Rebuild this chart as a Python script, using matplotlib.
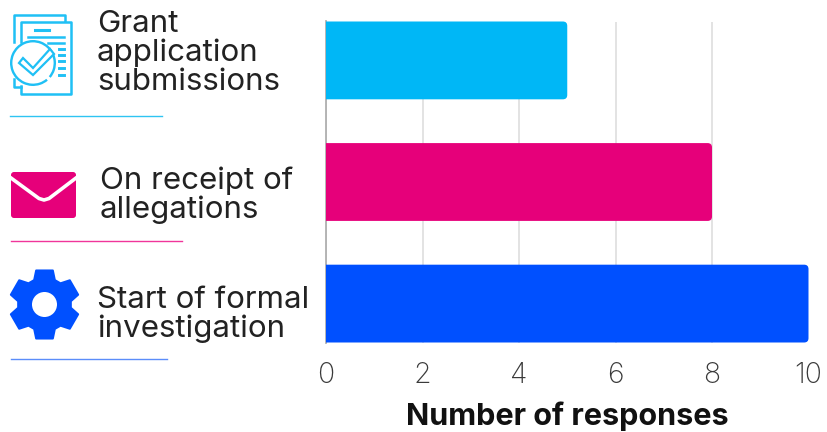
import matplotlib
matplotlib.use("Agg")
import matplotlib.pyplot as plt
import numpy as np
from matplotlib.patches import FancyBboxPatch, Circle, Polygon, Rectangle, Wedge
from matplotlib.lines import Line2D

plt.rcParams['font.family'] = ['Inter', 'DejaVu Sans']

categories = ["Grant\napplication\nsubmissions", "On receipt of\nallegations", "Start of formal\ninvestigation"]
responses = [5, 8, 10]
bar_colors = ["#00b7f6", "#e6007a", "#0050ff"]
x_ticks = [0, 2, 4, 6, 8, 10]
x_label = "Number of responses"

W, H = 828, 432
fig = plt.figure(figsize=(W / 100, H / 100), dpi=100)


def px_axes(left, top, right, bottom):
  return fig.add_axes([left / W, 1 - bottom / H, (right - left) / W, (bottom - top) / H])


# bar chart
ax = px_axes(326, 21.5, 808.5, 342.5)
ax.set_xlim(0, 10)
ax.set_ylim(2.32, -0.32)
ax.set_yticks([])
ax.set_xticks(x_ticks)
ax.tick_params(axis='x', length=0, pad=14, labelsize=20.5, labelcolor="#3a3a3a")
for s in ['top', 'right', 'bottom']:
  ax.spines[s].set_visible(False)
ax.spines['left'].set_color("#b0b0b0")
ax.spines['left'].set_linewidth(1.3)
ax.grid(True, axis='x', color="#e0e0e0", linewidth=1.3)
ax.set_axisbelow(True)
for tick in ax.get_xticklabels():
  tick.set_fontweight('light')

bar_h = 0.64
for i, v in enumerate(responses):
  # start left of zero so only the right corners look rounded
  box = FancyBboxPatch((-0.2, i - bar_h / 2), v + 0.2, bar_h,
                       boxstyle="round,pad=0,rounding_size=0.09",
                       mutation_aspect=0.4, fc=bar_colors[i], ec='none', zorder=3)
  ax.add_patch(box)
  box.set_clip_path(Rectangle((0, -1), 11, 5, transform=ax.transData))

ax.set_xlabel(x_label, fontsize=22, fontweight='bold', color="#111111", labelpad=9)

# overlay in pixel coordinates for labels and icons
ov = fig.add_axes([0, 0, 1, 1], zorder=5)
ov.set_xlim(0, W)
ov.set_ylim(H, 0)
ov.axis('off')
ov.patch.set_alpha(0)

label_x = [97, 100, 97]
label_y = [53, 195, 314.5]
for t, x, y in zip(categories, label_x, label_y):
  ov.text(x, y, t, fontsize=22.5, color="#222222", va='center', ha='left', linespacing=1.02)

# separators under each label
ov.add_line(Line2D([10, 162], [115.5, 115.5], color="#2fc4f2", lw=1))
ov.add_line(Line2D([11, 182], [240.5, 240.5], color="#f0359a", lw=1))
ov.add_line(Line2D([11, 167], [359, 359], color="#5b8dfa", lw=1))


# document and check icon
def draw_doc_icon(c):
  lw = 1.8
  ov.add_line(Line2D([14, 14, 65, 65], [42, 15, 15, 21], color=c, lw=lw))
  ov.add_line(Line2D([14, 14, 21], [79, 87, 87], color=c, lw=lw))
  ov.add_line(Line2D([21, 21, 71, 71, 21, 21], [42, 22, 22, 94, 94, 86], color=c, lw=lw))
  ov.add_line(Line2D([35, 49], [30, 30], color=c, lw=lw + 0.4))
  ov.add_line(Line2D([28, 64], [36.5, 36.5], color=c, lw=lw))
  ov.add_line(Line2D([48, 64], [43, 43], color=c, lw=lw))
  for y in [49, 55, 61, 68, 75]:
    ov.add_line(Line2D([59, 64], [y, y], color=c, lw=lw + 0.3))
  ov.add_patch(Wedge((33, 63), 23, -310, 40, width=2.4, fc=c, ec='none'))
  ov.add_patch(Polygon([(19, 63), (33, 75), (54, 54), (50, 49), (33, 68), (23, 58)],
                       closed=True, fc='white', ec=c, lw=1.6))


# envelope icon
def draw_mail_icon(c):
  ov.add_patch(FancyBboxPatch((11, 172), 65, 46, boxstyle="round,pad=0,rounding_size=3",
                              fc=c, ec='none'))
  ov.add_line(Line2D([11, 39, 44, 49, 76], [178, 198.5, 200, 198.5, 178], color='white', lw=2.6,
                     solid_joinstyle='round'))


# gear icon
def draw_gear_icon(c):
  cx, cy = 44.5, 304.5
  angles = np.deg2rad(np.arange(0, 360, 60) + 90)
  pts = []
  for a in angles:
    for off, r in [(-0.40, 26.5), (-0.24, 35), (0.24, 35), (0.40, 26.5)]:
      pts.append((cx + r * np.cos(a + off), cy - r * np.sin(a + off)))
  ov.add_patch(Polygon(pts, closed=True, fc=c, ec=c, lw=1.5, joinstyle='round'))
  ov.add_patch(Circle((cx, cy), 12.5, fc='white', ec='none'))


draw_doc_icon("#1fc0f5")
draw_mail_icon("#e6007a")
draw_gear_icon("#0050ff")

fig.savefig("out.png", dpi=100)
